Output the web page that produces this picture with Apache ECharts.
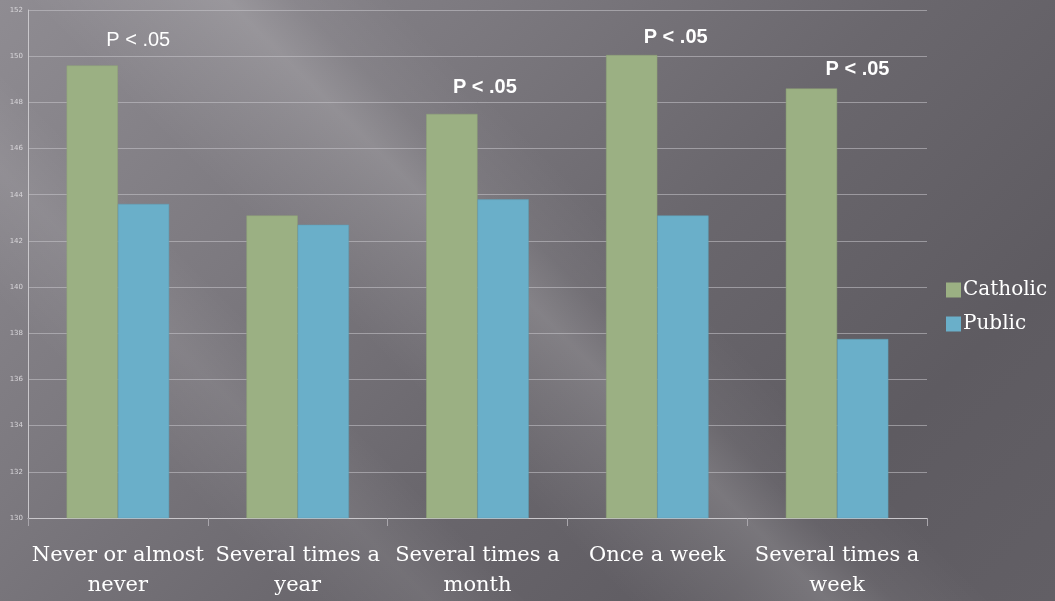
<!DOCTYPE html>
<html>
<head>
<meta charset="utf-8">
<script src="https://cdn.jsdelivr.net/npm/echarts@6/dist/echarts.min.js"></script>
<style>
  html, body { margin: 0; padding: 0; }
  body {
    width: 1055px; height: 601px; overflow: hidden;
    background:
      linear-gradient(45deg, rgba(255,255,255,0) 38%, rgba(255,255,255,0.10) 46%, rgba(255,255,255,0.16) 50%, rgba(255,255,255,0.05) 54%, rgba(255,255,255,0) 60%),
      linear-gradient(45deg, rgba(255,255,255,0) 18%, rgba(255,255,255,0.08) 26%, rgba(255,255,255,0) 32%),
      linear-gradient(135deg, #8f8c92 0%, #7c797f 30%, #6a676d 55%, #5e5b61 80%, #625f65 100%);
  }
  #chart { width: 1055px; height: 601px; }
</style>
</head>
<body>
<div id="chart"></div>
<script>
// Frequency categories on the x axis
const categories = [
  'Never or almost\nnever',
  'Several times a\nyear',
  'Several times a\nmonth',
  'Once a week',
  'Several times a\nweek'
];
// Mean scores per school type
const catholicValues = [149.6, 143.1, 147.5, 150.05, 148.6];
const publicValues   = [143.6, 142.7, 143.8, 143.1, 137.75];
// Significance notes shown above the Catholic bars
const pLabels = ['P < .05', '', 'P < .05', 'P < .05', 'P < .05'];
// Y axis range
const yMin = 130, yMax = 152, yStep = 2;

// Placement and weight of each significance note
const noteOffsets = [[46, -10], [0, 0], [33, -11], [44, -3], [46, -4]];
const noteWeights = ['normal', 'normal', 'bold', 'bold', 'bold'];

const catholicData = catholicValues.map((v, i) => ({
  value: v,
  label: {
    show: pLabels[i] !== '',
    formatter: pLabels[i],
    position: 'top',
    offset: noteOffsets[i],
    color: '#ffffff',
    fontFamily: 'Liberation Sans, Arial, sans-serif',
    fontSize: 20,
    fontWeight: noteWeights[i]
  }
}));

const chart = echarts.init(document.getElementById('chart'), null, { renderer: 'canvas' });
chart.setOption({
  backgroundColor: 'transparent',
  animation: false,
  grid: { left: 28, right: 128, top: 10, bottom: 82, containLabel: false },
  legend: {
    orient: 'vertical',
    left: 941,
    top: 275,
    itemWidth: 15,
    itemHeight: 15,
    itemGap: 14,
    icon: 'rect',
    itemStyle: { borderWidth: 0 },
    textStyle: { color: '#ffffff', fontFamily: 'DejaVu Serif, serif', fontSize: 20, padding: [0, 0, 0, -3] },
    data: ['Catholic', 'Public']
  },
  xAxis: {
    type: 'category',
    data: categories,
    axisLine: { lineStyle: { color: '#c9c7cb', width: 1 } },
    axisTick: { show: true, length: 8, lineStyle: { color: '#a9a6ac' } },
    axisLabel: {
      color: '#ffffff',
      fontFamily: 'DejaVu Serif, serif',
      fontSize: 21,
      lineHeight: 30,
      margin: 23,
      interval: 0
    }
  },
  yAxis: {
    type: 'value',
    min: yMin,
    max: yMax,
    interval: yStep,
    axisLine: { show: true, lineStyle: { color: '#c9c7cb', width: 1 } },
    axisTick: { show: false },
    axisLabel: { color: '#d8d6da', fontSize: 7, margin: 5, fontFamily: 'DejaVu Sans, sans-serif' },
    splitLine: { lineStyle: { color: 'rgba(200,198,204,0.55)', width: 1 } }
  },
  series: [
    {
      name: 'Catholic',
      type: 'bar',
      data: catholicData,
      barGap: '0%',
      barCategoryGap: '43%',
      itemStyle: { color: '#9bb083', borderColor: '#8ea276', borderWidth: 0.5 }
    },
    {
      name: 'Public',
      type: 'bar',
      data: publicValues,
      itemStyle: { color: '#6aafc9', borderColor: '#5f9fb7', borderWidth: 0.5 }
    }
  ]
});
</script>
</body>
</html>
